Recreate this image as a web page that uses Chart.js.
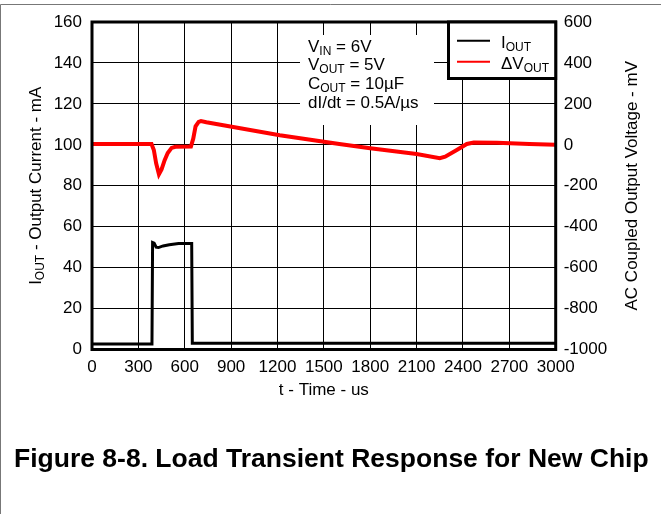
<!DOCTYPE html>
<html>
<head>
<meta charset="utf-8">
<title>Load Transient Response</title>
<script src="https://cdn.jsdelivr.net/npm/chart.js@4.4.0/dist/chart.umd.min.js"></script>
<style>
  html, body { margin: 0; padding: 0; background: #fff; overflow: hidden; }
  #wrap { position: relative; width: 661px; height: 514px; }
</style>
</head>
<body>
<div id="wrap"><canvas id="load-chart"></canvas></div>
<script>
// load step, output current in mA
var iTime    = [0, 388, 392, 402, 415, 430, 460, 500, 560, 645, 649, 655, 3000];
var iCurrent = [2.7, 2.7, 52.3, 52.0, 50.0, 49.8, 50.6, 51.2, 51.8, 51.8, 3.0, 3.0, 3.0];

// AC coupled output voltage in mV
var vTime  = [0, 385, 400, 415, 433, 450, 470, 490, 515, 540, 640, 655, 670, 690, 705, 740,
              1215, 1600, 1800, 2100, 2250, 2285, 2360, 2425, 2470, 2620, 2830, 3000];
var vDelta = [4, 4, -25, -90, -144, -120, -75, -40, -15, -10, -8, 30, 90, 112, 116, 110,
              47, 4, -17, -45, -65, -58, -25, 4, 11, 10, 4, 0];

// axis ticks
var timeTicks    = [0, 300, 600, 900, 1200, 1500, 1800, 2100, 2400, 2700, 3000];
var currentTicks = [0, 20, 40, 60, 80, 100, 120, 140, 160];
var voltTicks    = [-1000, -800, -600, -400, -200, 0, 200, 400, 600];

var FONT = '"Liberation Sans", Arial, sans-serif';

function toPoints(xs, ys) {
  return xs.map(function(x, i) { return { x: x, y: ys[i] }; });
}

// plain numbers, no thousands separator
function plain(value) { return String(value); }

// draw text pieces, [text, isSub]
function drawRuns(ctx, x, y, runs, size, subSize) {
  runs.forEach(function(r) {
    ctx.font = (r[1] ? subSize : size) + 'px ' + FONT;
    ctx.fillText(r[0], x, y + (r[1] ? 3 : 0));
    x += ctx.measureText(r[0]).width;
  });
  return x;
}
function runsWidth(ctx, runs, size, subSize) {
  var w = 0;
  runs.forEach(function(r) {
    ctx.font = (r[1] ? subSize : size) + 'px ' + FONT;
    w += ctx.measureText(r[0]).width;
  });
  return w;
}
function drawRotated(ctx, cx, cy, runs) {
  ctx.save();
  ctx.translate(cx, cy);
  ctx.rotate(-Math.PI / 2);
  var w = runsWidth(ctx, runs, 17, 12);
  drawRuns(ctx, -w / 2, 0, runs, 17, 12);
  ctx.restore();
}

var decorations = {
  id: 'decorations',
  beforeDraw: function(chart) {
    var ctx = chart.ctx;
    ctx.save();
    ctx.fillStyle = '#fff';
    ctx.fillRect(0, 0, chart.width, chart.height);
    ctx.strokeStyle = '#777';
    ctx.lineWidth = 1;
    ctx.beginPath();
    ctx.moveTo(0.5, chart.height);
    ctx.lineTo(0.5, 4.5);
    ctx.lineTo(chart.width, 4.5);
    ctx.stroke();
    ctx.restore();
  },
  beforeDatasetsDraw: function(chart) {
    // white patch behind the test conditions
    var ctx = chart.ctx;
    ctx.save();
    ctx.fillStyle = '#fff';
    ctx.fillRect(300, 35, 134, 90);
    ctx.fillStyle = '#000';
    ctx.textBaseline = 'alphabetic';
    drawRuns(ctx, 308, 51.5, [['V'], ['IN', 1], [' = 6V']], 17, 12);
    drawRuns(ctx, 308, 70.3, [['V'], ['OUT', 1], [' = 5V']], 17, 12);
    drawRuns(ctx, 308, 89, [['C'], ['OUT', 1], [' = 10\u00b5F']], 17, 12);
    drawRuns(ctx, 308, 107.7, [['dI/dt = 0.5A/\u00b5s']], 17, 12);
    ctx.restore();
  },
  afterDatasetsDraw: function(chart) {
    var ctx = chart.ctx;
    var a = chart.chartArea;
    ctx.save();
    ctx.strokeStyle = '#000';
    ctx.lineWidth = 3;
    ctx.strokeRect(a.left, a.top, a.right - a.left, a.bottom - a.top);

    // legend box
    ctx.fillStyle = '#fff';
    ctx.fillRect(448.5, a.top, a.right - 448.5, 78.5 - a.top);
    ctx.strokeRect(448.5, a.top, a.right - 448.5, 78.5 - a.top);
    ctx.lineWidth = 2;
    ctx.strokeStyle = '#000';
    ctx.beginPath(); ctx.moveTo(457, 40.7); ctx.lineTo(490, 40.7); ctx.stroke();
    ctx.strokeStyle = '#ff0000';
    ctx.beginPath(); ctx.moveTo(457, 61.7); ctx.lineTo(490, 61.7); ctx.stroke();
    ctx.fillStyle = '#000';
    drawRuns(ctx, 501, 48.3, [['I'], ['OUT', 1]], 17, 12);
    drawRuns(ctx, 501, 69, [['\u0394V'], ['OUT', 1]], 17, 12);
    ctx.restore();
  },
  afterDraw: function(chart) {
    var ctx = chart.ctx;
    var a = chart.chartArea;
    var mid = (a.top + a.bottom) / 2;
    ctx.save();
    ctx.fillStyle = '#000';
    ctx.textBaseline = 'alphabetic';
    drawRotated(ctx, 40.7, mid, [['I'], ['OUT', 1], [' - Output Current - mA']]);
    drawRotated(ctx, 637, mid, [['AC Coupled Output Voltage - mV']]);

    ctx.font = '17px ' + FONT;
    ctx.textAlign = 'center';
    ctx.fillText('t - Time - us', (a.left + a.right) / 2, 395);

    ctx.font = 'bold 26.5px ' + FONT;
    ctx.textAlign = 'left';
    ctx.fillText('Figure 8-8. Load Transient Response for New Chip', 14, 467);
    ctx.restore();
  }
};

var tickFont = { family: FONT, size: 17 };

new Chart('load-chart', {
  type: 'line',
  data: {
    datasets: [{
      label: 'IOUT',
      data: toPoints(iTime, iCurrent),
      borderColor: '#000',
      borderWidth: 3,
      yAxisID: 'y'
    }, {
      label: '\u0394VOUT',
      data: toPoints(vTime, vDelta),
      borderColor: '#ff0000',
      borderWidth: 4,
      yAxisID: 'y1'
    }]
  },
  options: {
    responsive: true,
    maintainAspectRatio: false,
    animation: false,
    devicePixelRatio: 1,
    layout: {
      padding: { top: 22, bottom: 114.5, left: 0, right: 0 }
    },
    elements: {
      point: { radius: 0 },
      line: { tension: 0 }
    },
    plugins: {
      legend: { display: false },
      tooltip: { enabled: false }
    },
    scales: {
      x: {
        type: 'linear',
        min: timeTicks[0],
        max: timeTicks[timeTicks.length - 1],
        grid: { color: '#000', lineWidth: 1, drawTicks: false },
        border: { display: false },
        ticks: {
          stepSize: timeTicks[1] - timeTicks[0],
          autoSkip: false,
          maxRotation: 0,
          padding: 8,
          color: '#000',
          font: tickFont,
          callback: plain
        },
        afterFit: function(scale) { scale.height = 50; }
      },
      y: {
        position: 'left',
        min: currentTicks[0],
        max: currentTicks[currentTicks.length - 1],
        grid: { color: '#000', lineWidth: 1, drawTicks: false },
        border: { display: false },
        ticks: {
          stepSize: currentTicks[1] - currentTicks[0],
          padding: 10,
          color: '#000',
          font: tickFont,
          callback: plain
        },
        afterFit: function(scale) { scale.width = 92; }
      },
      y1: {
        position: 'right',
        min: voltTicks[0],
        max: voltTicks[voltTicks.length - 1],
        grid: { display: false, drawTicks: false },
        border: { display: false },
        ticks: {
          stepSize: voltTicks[1] - voltTicks[0],
          padding: 8,
          color: '#000',
          font: tickFont,
          callback: plain
        },
        afterFit: function(scale) { scale.width = 105.3; }
      }
    }
  },
  plugins: [decorations]
});
</script>
</body>
</html>
